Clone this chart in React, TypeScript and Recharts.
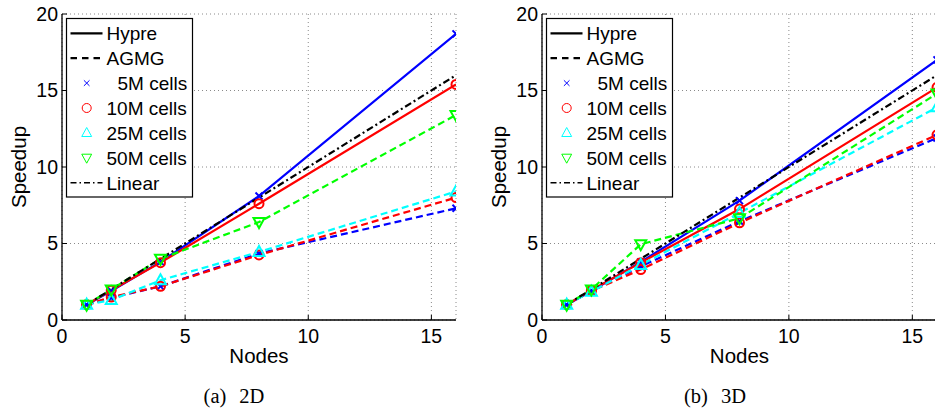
import React from 'react';
import { LineChart, Line, XAxis, YAxis, CartesianGrid, Legend } from 'recharts';

// ---------- data ----------
const nodes = [1, 2, 4, 8, 16];
const linearSpeedup = [1, 2, 4, 8, 16];

// 2D
const hypre5M2D = [1, 1.9, 3.8, 8.1, 18.7];
const hypre10M2D = [1, 1.95, 3.75, 7.6, 15.4];
const agmg5M2D = [1, 1.45, 2.2, 4.35, 7.3];
const agmg10M2D = [1, 1.5, 2.2, 4.25, 8.0];
const agmg25M2D = [1, 1.3, 2.6, 4.45, 8.4];
const agmg50M2D = [1, 2.0, 4.0, 6.4, 13.4];

// 3D
const hypre5M3D = [1, 1.9, 3.8, 7.8, 17.0];
const hypre10M3D = [1, 1.95, 3.75, 7.25, 15.2];
const agmg5M3D = [1, 1.9, 3.5, 6.45, 11.9];
const agmg10M3D = [1, 1.9, 3.3, 6.35, 12.1];
const agmg25M3D = [1, 1.85, 3.6, 7.0, 13.9];
const agmg50M3D = [1, 2.0, 4.95, 6.65, 14.8];

const xTicks = [0, 5, 10, 15];
const yTicks = [0, 5, 10, 15, 20];
const innerTicks = [5, 10, 15];

const legendLabels = ['Hypre', 'AGMG', '5M cells', '10M cells', '25M cells', '50M cells', 'Linear'];
const captions = ['(a)', '2D', '(b)', '3D'];

const BLUE = '#0000ff';
const RED = '#ff0000';
const CYAN = '#00ffff';
const GREEN = '#00ff00';
const BLACK = '#000000';

const SANS = '"Liberation Sans", Arial, Helvetica, sans-serif';
const SERIF = '"Liberation Serif", "Times New Roman", serif';

const TICK_FS = 19.5;
const LABEL_FS = 20.5;
const LEGEND_FS = 19;

const toPoints = (vals: number[]) => nodes.map((n, i) => ({ x: n, y: vals[i] }));

// ---------- markers ----------
type MarkerKind = 'x' | 'o' | 'tu' | 'td';

const Marker = ({ kind, cx, cy, color, sw = 2, s = 1 }: { kind: MarkerKind; cx: number; cy: number; color: string; sw?: number; s?: number }) => {
  if (kind === 'x') {
    const d = 3.5 * s;
    return (
      <g stroke={color} strokeWidth={sw} fill="none">
        <line x1={cx - d} y1={cy - d} x2={cx + d} y2={cy + d} />
        <line x1={cx - d} y1={cy + d} x2={cx + d} y2={cy - d} />
      </g>
    );
  }
  if (kind === 'o') {
    return <circle cx={cx} cy={cy} r={4.5 * s} stroke={color} strokeWidth={sw} fill="none" />;
  }
  if (kind === 'tu') {
    const pts = `${cx},${cy - 6 * s} ${cx - 5.5 * s},${cy + 4 * s} ${cx + 5.5 * s},${cy + 4 * s}`;
    return <polygon points={pts} stroke={color} strokeWidth={sw} fill="none" strokeLinejoin="miter" />;
  }
  const pts = `${cx},${cy + 6 * s} ${cx - 5.5 * s},${cy - 4 * s} ${cx + 5.5 * s},${cy - 4 * s}`;
  return <polygon points={pts} stroke={color} strokeWidth={sw} fill="none" strokeLinejoin="miter" />;
};

const dotRenderer = (kind: MarkerKind, color: string) => (props: any) => {
  const { cx, cy, index } = props;
  if (cx == null || cy == null) return <g key={`d-${index}`} />;
  return (
    <g key={`d-${kind}-${color}-${index}`}>
      <Marker kind={kind} cx={cx} cy={cy} color={color} />
    </g>
  );
};

// ---------- legend ----------
const LegendBox = () => {
  const rowY = (i: number) => 15.3 + 24.9 * i;
  const x0 = 4.5;
  const x1 = 36.5;
  const mx = 20.7;
  const tx = 40.5;
  const dy = 7;
  const textProps = { fontFamily: SANS, fontSize: LEGEND_FS, fill: BLACK };
  return (
    <svg width={127} height={180} style={{ display: 'block', overflow: 'visible' }}>
      <rect x={0.5} y={0.5} width={126} height={178.5} fill="#ffffff" stroke={BLACK} strokeWidth={1.2} />
      <line x1={x0} x2={x1} y1={rowY(0)} y2={rowY(0)} stroke={BLACK} strokeWidth={2.2} />
      <text x={tx} y={rowY(0) + dy} {...textProps}>{legendLabels[0]}</text>
      <line x1={x0} x2={x1} y1={rowY(1)} y2={rowY(1)} stroke={BLACK} strokeWidth={2.2} strokeDasharray="6.5 5" />
      <text x={tx} y={rowY(1) + dy} {...textProps}>{legendLabels[1]}</text>
      <Marker kind="x" cx={mx} cy={rowY(2)} color={BLUE} sw={1} s={0.8} />
      <text x={tx + 11} y={rowY(2) + dy} {...textProps}>{legendLabels[2]}</text>
      <Marker kind="o" cx={mx} cy={rowY(3)} color={RED} sw={1} s={1} />
      <text x={tx} y={rowY(3) + dy} {...textProps}>{legendLabels[3]}</text>
      <Marker kind="tu" cx={mx} cy={rowY(4)} color={CYAN} sw={1} s={0.9} />
      <text x={tx} y={rowY(4) + dy} {...textProps}>{legendLabels[4]}</text>
      <Marker kind="td" cx={mx} cy={rowY(5)} color={GREEN} sw={1} s={0.9} />
      <text x={tx} y={rowY(5) + dy} {...textProps}>{legendLabels[5]}</text>
      <line x1={x0} x2={x1} y1={rowY(6)} y2={rowY(6)} stroke={BLACK} strokeWidth={1.5} strokeDasharray="6 3 1.5 3" />
      <text x={tx} y={rowY(6) + dy} {...textProps}>{legendLabels[6]}</text>
    </svg>
  );
};

// ---------- panel ----------
type PanelData = {
  hypre5M: number[];
  hypre10M: number[];
  agmg5M: number[];
  agmg10M: number[];
  agmg25M: number[];
  agmg50M: number[];
};

const Panel = ({ d, left, marginLeft, marginRight }: { d: PanelData; left: number; marginLeft: number; marginRight: number }) => {
  const width = 470;
  const height = 414;
  const yAxisWidth = 40;
  const dash = '7 4';
  const lineW = 2.2;
  const ids = { xAxisId: 'b', yAxisId: 'l' } as const;
  return (
    <div style={{ position: 'absolute', left, top: 0 }}>
      <LineChart width={width} height={height} margin={{ top: 14, right: marginRight, bottom: 51, left: marginLeft }}>
        <CartesianGrid xAxisId="b" yAxisId="l" stroke="#8a8a8a" strokeDasharray="1 3" strokeWidth={1} />
        <XAxis
          xAxisId="b"
          type="number"
          dataKey="x"
          domain={[0, 16]}
          ticks={xTicks}
          allowDataOverflow
          height={43}
          stroke={BLACK}
          axisLine={{ stroke: BLACK, strokeWidth: 1.3 }}
          tickLine={{ stroke: BLACK, strokeWidth: 1 }}
          tickSize={-5}
          tickMargin={14}
          tick={{ fill: BLACK, fontSize: TICK_FS, fontFamily: SANS }}
          label={(p: any) => {
            const vb = p.viewBox || {};
            return (
              <text x={vb.x + vb.width / 2} y={362.7} textAnchor="middle" fontFamily={SANS} fontSize={LABEL_FS} fill={BLACK}>
                Nodes
              </text>
            );
          }}
        />
        <XAxis
          xAxisId="t"
          orientation="top"
          type="number"
          dataKey="x"
          domain={[0, 16]}
          ticks={innerTicks}
          height={0}
          axisLine={{ stroke: BLACK, strokeWidth: 1.3 }}
          tickLine={{ stroke: BLACK, strokeWidth: 1 }}
          tickSize={-5}
          tick={false}
        />
        <YAxis
          yAxisId="l"
          type="number"
          domain={[0, 20]}
          ticks={yTicks}
          width={yAxisWidth}
          axisLine={{ stroke: BLACK, strokeWidth: 1.3 }}
          tickLine={{ stroke: BLACK, strokeWidth: 1 }}
          tickSize={-5}
          tickMargin={9}
          tick={{ fill: BLACK, fontSize: TICK_FS, fontFamily: SANS }}
          label={(p: any) => {
            const vb = p.viewBox || {};
            const cx = vb.x + vb.width - 36;
            const cy = vb.y + vb.height / 2;
            return (
              <text x={cx} y={cy} transform={`rotate(-90 ${cx} ${cy})`} textAnchor="middle" fontFamily={SANS} fontSize={LABEL_FS} fill={BLACK}>
                Speedup
              </text>
            );
          }}
        />
        <YAxis
          yAxisId="r"
          orientation="right"
          type="number"
          domain={[0, 20]}
          ticks={innerTicks}
          width={0}
          axisLine={{ stroke: BLACK, strokeWidth: 1.3 }}
          tickLine={{ stroke: BLACK, strokeWidth: 1 }}
          tickSize={-5}
          tick={false}
        />
        <Line {...ids} data={toPoints(d.hypre5M)} dataKey="y" stroke={BLUE} strokeWidth={lineW} dot={dotRenderer('x', BLUE)} isAnimationActive={false} legendType="none" />
        <Line {...ids} data={toPoints(d.hypre10M)} dataKey="y" stroke={RED} strokeWidth={lineW} dot={dotRenderer('o', RED)} isAnimationActive={false} legendType="none" />
        <Line {...ids} data={toPoints(d.agmg5M)} dataKey="y" stroke={BLUE} strokeWidth={lineW} strokeDasharray={dash} dot={dotRenderer('x', BLUE)} isAnimationActive={false} legendType="none" />
        <Line {...ids} data={toPoints(d.agmg10M)} dataKey="y" stroke={RED} strokeWidth={lineW} strokeDasharray={dash} dot={dotRenderer('o', RED)} isAnimationActive={false} legendType="none" />
        <Line {...ids} data={toPoints(d.agmg25M)} dataKey="y" stroke={CYAN} strokeWidth={lineW} strokeDasharray={dash} dot={dotRenderer('tu', CYAN)} isAnimationActive={false} legendType="none" />
        <Line {...ids} data={toPoints(d.agmg50M)} dataKey="y" stroke={GREEN} strokeWidth={lineW} strokeDasharray={dash} dot={dotRenderer('td', GREEN)} isAnimationActive={false} legendType="none" />
        <Line {...ids} data={toPoints(linearSpeedup)} dataKey="y" stroke={BLACK} strokeWidth={lineW} strokeDasharray="7 3 2 3" dot={false} isAnimationActive={false} legendType="none" />
        <Legend
          layout="horizontal"
          align="center"
          verticalAlign="middle"
          content={() => <LegendBox />}
          wrapperStyle={{ left: marginLeft + yAxisWidth + 4, top: 18, width: 127, height: 180 }}
        />
      </LineChart>
    </div>
  );
};

const data2D: PanelData = {
  hypre5M: hypre5M2D,
  hypre10M: hypre10M2D,
  agmg5M: agmg5M2D,
  agmg10M: agmg10M2D,
  agmg25M: agmg25M2D,
  agmg50M: agmg50M2D,
};

const data3D: PanelData = {
  hypre5M: hypre5M3D,
  hypre10M: hypre10M3D,
  agmg5M: agmg5M3D,
  agmg10M: agmg10M3D,
  agmg25M: agmg25M3D,
  agmg50M: agmg50M3D,
};

export default function App() {
  return (
    <div style={{ position: 'absolute', left: 0, top: 0, width: 935, height: 414, overflow: 'hidden', background: '#ffffff' }}>
      <Panel d={data2D} left={0} marginLeft={22} marginRight={14} />
      <Panel d={data3D} left={470} marginLeft={32} marginRight={3} />
      <svg width={935} height={414} style={{ position: 'absolute', left: 0, top: 0, pointerEvents: 'none' }}>
        <text x={234} y={402.7} textAnchor="middle" fontFamily={SERIF} fontSize={20.5} fill={BLACK}>
          {captions[0]}
          <tspan dx={13}>{captions[1]}</tspan>
        </text>
        <text x={715} y={402.7} textAnchor="middle" fontFamily={SERIF} fontSize={20.5} fill={BLACK}>
          {captions[2]}
          <tspan dx={13}>{captions[3]}</tspan>
        </text>
      </svg>
    </div>
  );
}
